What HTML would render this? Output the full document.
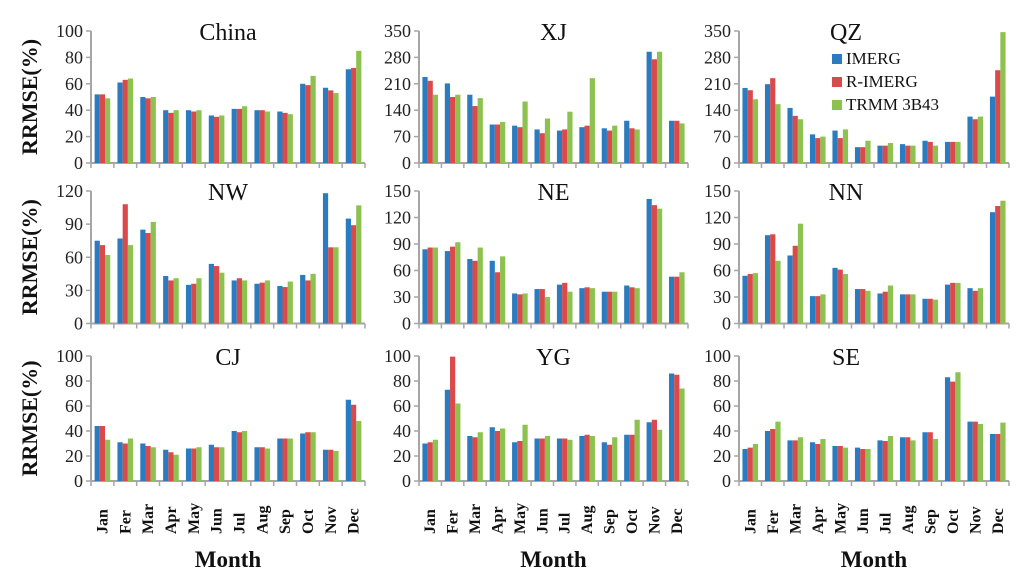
<!DOCTYPE html>
<html><head><meta charset="utf-8">
<style>
body{margin:0;background:#fff;}
svg{display:block;font-family:"Liberation Serif",serif;}
</style></head>
<body>
<svg id="chart" width="1024" height="581" viewBox="0 0 1024 581" xmlns="http://www.w3.org/2000/svg" font-family="Liberation Serif, serif"></svg>
<script>
const months = ["Jan","Fer","Mar","Apr","May","Jun","Jul","Aug","Sep","Oct","Nov","Dec"];
const seriesNames = ["IMERG","R-IMERG","TRMM 3B43"];
const regions = ["China","XJ","QZ","NW","NE","NN","CJ","YG","SE"];
const yMaxes = [100,350,350,120,150,150,100,100,100];
const ySteps = [20,70,70,30,30,30,20,20,20];
const imergChina=[52,61,50,40,40,36,41,40,39,60,57,71];
const rimergChina=[52,63,49,38,39,35,41,40,38,59,55,72];
const trmmChina=[49,64,50,40,40,36,43,39,37,66,53,85];
const imergXJ=[228,211,181,102,99,89,86,95,92,112,295,112];
const rimergXJ=[218,175,151,102,95,79,89,99,86,92,275,112];
const trmmXJ=[181,181,172,109,163,118,136,225,99,89,295,105];
const imergQZ=[199,209,146,76,86,42,46,50,59,56,123,176];
const rimergQZ=[193,225,125,66,66,42,46,46,56,56,116,246];
const trmmQZ=[169,156,116,70,89,59,53,46,46,56,123,347];
const imergNW=[75,77,85,43,35,54,39,36,34,44,118,95];
const rimergNW=[71,108,82,39,36,52,41,37,33,39,69,89];
const trmmNW=[62,71,92,41,41,46,39,39,38,45,69,107];
const imergNE=[84,82,73,71,34,39,44,40,36,43,141,53];
const rimergNE=[86,87,71,58,33,39,46,41,36,41,134,53];
const trmmNE=[86,92,86,76,34,30,36,40,36,40,130,58];
const imergNN=[54,100,77,31,63,39,34,33,28,44,40,126];
const rimergNN=[56,101,88,31,61,39,36,33,28,46,37,133];
const trmmNN=[57,71,113,33,56,37,43,33,27,46,40,139];
const imergCJ=[44,31,30,25,26,29,40,27,34,38,25,65];
const rimergCJ=[44,30,28,23,26,27,39,27,34,39,25,61];
const trmmCJ=[33,34,27,21,27,27,40,26,34,39,24,48];
const imergYG=[30,73,36,43,31,34,34,36,31,37,47,86];
const rimergYG=[31,99.5,35,40,32,34,34,37,29,37,49,85];
const trmmYG=[33,62,39,42,45,36,33,36,35,49,41,74];
const imergSE=[25.6,40,32.5,31,28,26.7,32.5,35,39,83,47.5,37.6];
const rimergSE=[26.7,41.6,32.5,29.6,28,25.6,32,35,39,79.5,47.5,37.6];
const trmmSE=[29.6,47.5,35,33.6,26.7,25.6,36,32.5,33.6,87,45.6,46.7];
const allData=[[imergChina,rimergChina,trmmChina],[imergXJ,rimergXJ,trmmXJ],[imergQZ,rimergQZ,trmmQZ],
[imergNW,rimergNW,trmmNW],[imergNE,rimergNE,trmmNE],[imergNN,rimergNN,trmmNN],
[imergCJ,rimergCJ,trmmCJ],[imergYG,rimergYG,trmmYG],[imergSE,rimergSE,trmmSE]];

const colors=["#2b7bc1","#da4a4b","#8dc150"];
const colX=[[91,365],[419,688],[739,1009]];
const rowY=[[31,163],[191,323.5],[356,481]];
const svg=document.getElementById('chart');
const NS="http://www.w3.org/2000/svg";
function mk(tag,attrs,parent){const e=document.createElementNS(NS,tag);for(const k in attrs)e.setAttribute(k,attrs[k]);(parent||svg).appendChild(e);return e;}

for(let p=0;p<9;p++){
  const c=p%3,r=Math.floor(p/3);
  const [x0,x1]=colX[c],[yT,yB]=rowY[r];
  const g=mk('g',{});
  
  
  const yMax=yMaxes[p];
  const ys=v=>yB-(v/yMax)*(yB-yT);
  const gw=(x1-x0)/12;
  const ax=mk('line',{x1:x0,y1:yT,x2:x0,y2:yB,stroke:'#a6a6a6','stroke-width':2},g);
  
  
  for(let v=0;v<=yMax+0.01;v+=ySteps[p]){
    const y=ys(v);
    mk('line',{x1:x0-5,y1:y,x2:x0,y2:y,stroke:'#a6a6a6','stroke-width':1.5},g);
    const t=mk('text',{x:x0-8,y:y+6,'text-anchor':'end','font-size':18,fill:'#222','font-family':'Liberation Serif, serif'},g);
    t.textContent=v;
    
    
  }
  const xa=mk('line',{x1:x0,y1:yB,x2:x1,y2:yB,stroke:'#a6a6a6','stroke-width':2},g);
  
  
  for(let i=0;i<=12;i++){const x=x0+i*gw;mk('line',{x1:x,y1:yB,x2:x,y2:yB+5,stroke:'#a6a6a6','stroke-width':1.5},g);}
  const bw=5.2;
  for(let s=0;s<3;s++){
    const d=allData[p][s];
    for(let i=0;i<12;i++){
      const x=x0+i*gw+(gw-3*bw)/2+s*bw;
      const y=ys(d[i]);
      const b=mk('rect',{x:x,y:y,width:bw,height:yB-y,fill:colors[s]},g);
      
      
    }
  }
  const tt=mk('text',{x:(x0+x1)/2+(c==2?-28:0),y:yT+9,'text-anchor':'middle','font-size':24,fill:'#111','font-family':'Liberation Serif, serif'},g);
  tt.textContent=regions[p];
  
  
  if(r==2){
    for(let i=0;i<12;i++){
      const x=x0+(i+0.5)*gw+5;
      const ml=mk('text',{x:x,y:534,'text-anchor':'start','font-size':16,'font-weight':'bold',fill:'#111','font-family':'Liberation Serif, serif',transform:'rotate(-90 '+x+' 534)'},g);
      ml.textContent=months[i];
      
      
    }
    const mt=mk('text',{x:(x0+x1)/2,y:567,'text-anchor':'middle','font-size':23,'font-weight':'bold',fill:'#111','font-family':'Liberation Serif, serif'},g);
    mt.textContent='Month';
    
    
  }
  if(c==0){
    const cy=(yT+yB)/2;
    const yt=mk('text',{x:37,y:cy,'text-anchor':'middle','font-size':22,'font-weight':'bold',fill:'#111','font-family':'Liberation Serif, serif',transform:'rotate(-90 37 '+cy+')'},g);
    yt.textContent='RRMSE(%)';
    
    
  }
}
const lg=mk('g',{});


for(let s=0;s<3;s++){
  const y=60+s*23;
  mk('rect',{x:832,y:y-6,width:10,height:10,fill:colors[s]},lg);
  const t=mk('text',{x:846,y:y+4,'font-size':17,fill:'#111','font-family':'Liberation Serif, serif'},lg);
  t.textContent=seriesNames[s];
  
  
}
</script>
</body></html>
